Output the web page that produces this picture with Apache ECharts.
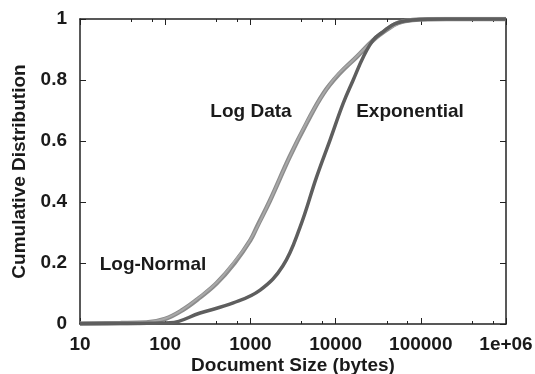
<!DOCTYPE html>
<html>
<head>
<meta charset="utf-8">
<script src="https://cdn.jsdelivr.net/npm/echarts@6/dist/echarts.min.js"></script>
<style>
  html, body { margin: 0; padding: 0; background: #fff; }
  #chart { width: 535px; height: 374px; }
</style>
</head>
<body>
<div id="chart"></div>
<script>
// values
const xTickLabels = ['10', '100', '1000', '10000', '100000', '1e+06'];

const logDataX = [10, 30, 60, 100, 160, 250, 400, 650, 1000, 1200, 1700, 2900, 4600, 7200, 11200, 17700, 27700, 39500, 55000, 80000, 200000, 1000000];
const logDataY = [0.002, 0.003, 0.005, 0.017, 0.046, 0.085, 0.133, 0.2, 0.275, 0.32, 0.405, 0.549, 0.66, 0.756, 0.822, 0.876, 0.931, 0.964, 0.988, 0.997, 1, 1];

const logNormalX = [10, 30, 60, 100, 160, 250, 400, 650, 1000, 1600, 2500, 4000, 6300, 10000, 16000, 25000, 40000, 63000, 100000, 1000000];
const logNormalY = [0.001, 0.003, 0.006, 0.018, 0.047, 0.087, 0.135, 0.205, 0.277, 0.39, 0.51, 0.63, 0.73, 0.81, 0.865, 0.918, 0.965, 0.99, 0.998, 1];

const expX = [10, 50, 114, 257, 630, 1300, 2400, 3800, 6000, 8600, 12300, 16100, 21200, 27700, 36000, 50000, 80000, 200000, 1000000];
const expY = [0.001, 0.002, 0.004, 0.036, 0.069, 0.111, 0.19, 0.315, 0.483, 0.603, 0.724, 0.8, 0.876, 0.931, 0.958, 0.985, 0.997, 1, 1];

const zip = (xs, ys) => xs.map((x, i) => [x, ys[i]]);

const FONT = '"Liberation Sans", Arial, sans-serif';
const INK = '#1a1a1a';

const chart = echarts.init(document.getElementById('chart'));

const frameX = {
  type: 'log',
  logBase: 10,
  min: 10,
  max: 1000000,
  axisLine: { show: true, onZero: false, lineStyle: { color: '#222', width: 1.5 } },
  axisTick: { show: true, inside: true, length: 6, lineStyle: { color: '#222', width: 1 } },
  minorTick: { show: true, splitNumber: 3, length: 3, lineStyle: { color: '#222' } },
  splitLine: { show: false },
  minorSplitLine: { show: false },
};
const frameY = {
  type: 'value',
  min: 0,
  max: 1,
  interval: 0.2,
  axisLine: { show: true, onZero: false, lineStyle: { color: '#222', width: 1.5 } },
  axisTick: { show: true, inside: true, length: 6, lineStyle: { color: '#222', width: 1 } },
  splitLine: { show: false },
};

const lineSeries = (name, xs, ys, color, width) => ({
  name: name,
  type: 'line',
  data: zip(xs, ys),
  showSymbol: false,
  smooth: 0.4,
  lineStyle: { color: color, width: width },
});

const option = {
  backgroundColor: '#fff',
  animation: false,
  grid: { left: 80, right: 29, top: 19, bottom: 50, containLabel: false, outerBoundsMode: 'none' },
  xAxis: [
    Object.assign({}, frameX, {
      position: 'bottom',
      axisLabel: {
        margin: 11,
        color: INK,
        fontFamily: FONT,
        fontWeight: 'bold',
        fontSize: 19,
        formatter: (v) => xTickLabels[Math.round(Math.log10(v)) - 1],
      },
      name: 'Document Size (bytes)',
      nameLocation: 'middle',
      nameGap: 32,
      nameMoveOverlap: false,
      nameTextStyle: { color: INK, fontFamily: FONT, fontWeight: 'bold', fontSize: 19 },
    }),
    Object.assign({}, frameX, { position: 'top', axisLabel: { show: false } }),
  ],
  yAxis: [
    Object.assign({}, frameY, {
      position: 'left',
      axisLabel: {
        margin: 13,
        color: INK,
        fontFamily: FONT,
        fontWeight: 'bold',
        fontSize: 19,
      },
      name: 'Cumulative Distribution',
      nameLocation: 'middle',
      nameGap: 51,
      nameMoveOverlap: false,
      nameTextStyle: { color: INK, fontFamily: FONT, fontWeight: 'bold', fontSize: 19 },
    }),
    Object.assign({}, frameY, { position: 'right', axisLabel: { show: false } }),
  ],
  series: [
    lineSeries('Log Data', logDataX, logDataY, '#8c8c8c', 4.5),
    lineSeries('Log-Normal', logNormalX, logNormalY, '#a8a8a8', 2),
    lineSeries('Exponential', expX, expY, '#5e5e5e', 3.5),
  ],
  graphic: [
    { type: 'text', x: 251, y: 112, style: { text: 'Log Data', fill: INK, font: 'bold 19px ' + FONT, align: 'center', verticalAlign: 'middle' } },
    { type: 'text', x: 410, y: 112, style: { text: 'Exponential', fill: INK, font: 'bold 19px ' + FONT, align: 'center', verticalAlign: 'middle' } },
    { type: 'text', x: 153, y: 265, style: { text: 'Log-Normal', fill: INK, font: 'bold 19px ' + FONT, align: 'center', verticalAlign: 'middle' } },
  ],
};

chart.setOption(option);
</script>
</body>
</html>
